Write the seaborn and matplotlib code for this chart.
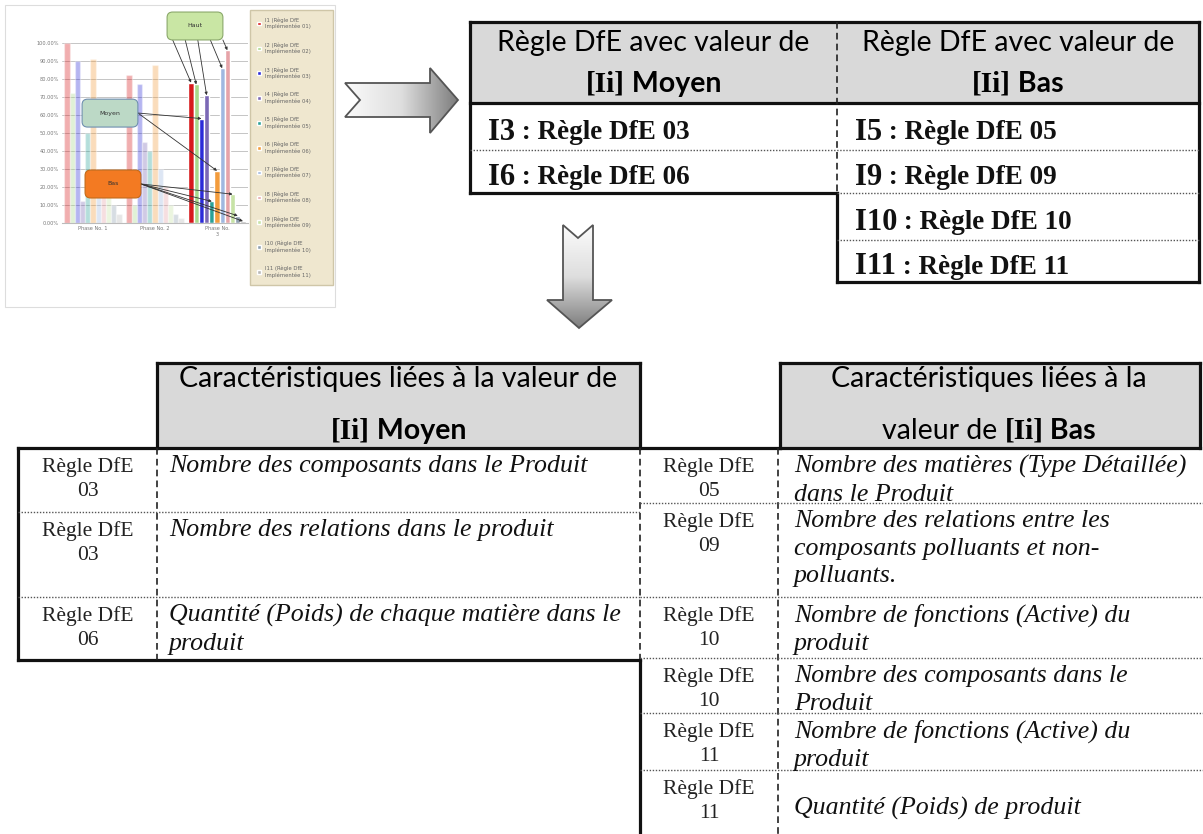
import numpy as np
import pandas as pd
import matplotlib.pyplot as plt
import seaborn as sns
from matplotlib.patches import Rectangle, Polygon, FancyBboxPatch
from matplotlib.colors import LinearSegmentedColormap

# ---------------------------------------------------------------
# données : miniature du graphique
phases = ["Phase No. 1", "Phase No. 2", "Phase No.\n3"]
indicateurs = ["I1", "I2", "I3", "I4", "I5", "I6", "I7", "I8", "I9", "I10", "I11"]
valeurs_phase1 = [1.00, 0.72, 0.90, 0.12, 0.50, 0.91, 0.30, 0.20, 0.15, 0.10, 0.05]
valeurs_phase2 = [0.82, 0.10, 0.77, 0.45, 0.40, 0.88, 0.30, 0.20, 0.10, 0.05, 0.03]
valeurs_phase3 = [0.78, 0.77, 0.58, 0.71, 0.12, 0.29, 0.86, 0.96, 0.16, 0.04, 0.01]
couleurs = ['#d7191c', '#a8d88a', '#2b2bd9', '#7b68b5', '#2aa198', '#f39c3c',
            '#9fb8e0', '#e6a3a8', '#c7e3a6', '#8fa0b0', '#b8b8b8']
niveaux = {"Haut": ["I1", "I2", "I4", "I7", "I8"],
           "Moyen": ["I3", "I6"],
           "Bas": ["I5", "I9", "I10", "I11"]}

# données : tableau des règles (en haut)
entete_moyen = ["Règle DfE avec valeur de", "Moyen"]
entete_bas = ["Règle DfE avec valeur de", "Bas"]
regles_moyen = [("I3", "Règle DfE 03"), ("I6", "Règle DfE 06")]
regles_bas = [("I5", "Règle DfE 05"), ("I9", "Règle DfE 09"),
              ("I10", "Règle DfE 10"), ("I11", "Règle DfE 11")]

# données : caractéristiques (en bas)
carac_moyen_num = ["03", "03", "06"]
carac_moyen_txt = ["Nombre des composants dans le Produit",
                   "Nombre des relations dans le produit",
                   "Quantité (Poids) de chaque matière dans le\nproduit"]
carac_bas_num = ["05", "09", "10", "10", "11", "11"]
carac_bas_txt = ["Nombre des matières (Type Détaillée)\ndans le Produit",
                 "Nombre des relations entre les\ncomposants polluants et non-\npolluants.",
                 "Nombre de fonctions (Active) du\nproduit",
                 "Nombre des composants dans le\nProduit",
                 "Nombre de fonctions (Active) du\nproduit",
                 "Quantité (Poids) de produit"]

# ---------------------------------------------------------------
sns.set_style('white')
SERIF = ['Liberation Serif', 'DejaVu Serif']
SANS = ['Lato', 'DejaVu Sans']
plt.rcParams['font.family'] = ['DejaVu Sans']

fig = plt.figure(figsize=(12.03, 8.34), dpi=100)
ax0 = fig.add_axes([0, 0, 1, 1])
ax0.set_xlim(0, 1203)
ax0.set_ylim(834, 0)
ax0.axis('off')
rend = fig.canvas.get_renderer()


def trait(x0, y0, x1, y1, style='plein'):
    if style == 'plein':
        kw = dict(color='#111111', lw=2.3, solid_capstyle='projecting')
    elif style == 'tirets':
        kw = dict(color='#222222', lw=1.2, linestyle=(0, (4, 2.5)))
    else:
        kw = dict(color='#555555', lw=1.0, linestyle=(0, (1, 1.2)))
    ax0.plot([x0, x1], [y0, y1], zorder=4, **kw)


def ligne_mixte(x, y, morceaux, ha='center'):
    objs = [ax0.text(0, y, t, va='center', ha='left', zorder=5, **kw) for t, kw in morceaux]
    larg = [o.get_window_extent(rend).width for o in objs]
    if ha == 'center':
        x = x - sum(larg) / 2
    for o, w in zip(objs, larg):
        o.set_x(x)
        x += w


def fleche(pts, vertical):
    poly = Polygon(pts, closed=True, fc='none', ec='#555555', lw=1.3, zorder=3)
    ax0.add_patch(poly)
    xs = [p[0] for p in pts]
    ys = [p[1] for p in pts]
    g = np.linspace(0, 1, 256)
    img = g[:, None] if vertical else g[None, :]
    cm = LinearSegmentedColormap.from_list('g', ['#fbfbfb', '#dedede', '#7d7d7d'])
    im = ax0.imshow(img, cmap=cm, extent=(min(xs), max(xs), max(ys), min(ys)),
                    aspect='auto', zorder=2)
    im.set_clip_path(poly)


hdr = dict(family=SANS, fontsize=20.5, color='#000000')
hdr_b = dict(family=SANS, fontsize=20.5, color='#000000', weight='bold')
ii = dict(family=SERIF, fontsize=21, color='#000000', weight='bold')

# ---------------------------------------------------------------
# miniature (graphique en barres)
ax0.add_patch(Rectangle((5, 5), 330, 302, fc='white', ec='#dddddd', lw=0.8, zorder=1))
axc = fig.add_axes([62 / 1203, 1 - 223 / 834, 186 / 1203, 180 / 834])
df = pd.DataFrame({'phase': np.repeat(phases, len(indicateurs)),
                   'indicateur': indicateurs * 3,
                   'valeur': valeurs_phase1 + valeurs_phase2 + valeurs_phase3})
sns.barplot(data=df, x='phase', y='valeur', hue='indicateur', palette=couleurs,
            saturation=1, width=0.92, ax=axc)
for cont in axc.containers:
    for j, bar in enumerate(cont):
        if j < 2:
            bar.set_alpha(0.35)
axc.set_ylim(0, 1.0)
axc.set_yticks(np.arange(0, 1.01, 0.1))
axc.set_yticklabels([f"{v * 100:.2f}%" for v in np.arange(0, 1.01, 0.1)])
axc.tick_params(labelsize=3.6, colors='#777777', length=0, pad=2)
axc.set_xlabel('')
axc.set_ylabel('')
axc.grid(axis='y', color='#bbbbbb', lw=0.6)
axc.set_axisbelow(True)
sns.despine(ax=axc, left=True)
axc.spines['bottom'].set_color('#bbbbbb')

h, l = axc.get_legend_handles_labels()
labs = [f"{n} (Règle DfE\nImplémentée {n[1:].zfill(2)})" for n in l]
axc.legend(h, labs, loc='upper left', bbox_to_anchor=(1.01, 1.183, 0.446, 0.0),
           mode='expand', fontsize=3.8, labelspacing=2.45, handlelength=0.7,
           handleheight=0.7, borderaxespad=0, borderpad=1.4, facecolor='#efe7cf',
           edgecolor='#cfc6a8', framealpha=1, fancybox=False, labelcolor='#666666')

boites = {"Haut": ((0.565, 1.017), '#c9e6a4', '#8aa86a'),
          "Moyen": ((0.108, 0.533), '#bcd9c6', '#6f8fb0'),
          "Bas": ((0.124, 0.139), '#f37a22', '#c26a1a')}
for nom, ((bx0, by0), fc, ec) in boites.items():
    axc.add_patch(FancyBboxPatch((bx0, by0), 0.3, 0.155, boxstyle='round,pad=0,rounding_size=0.03',
                                 transform=axc.transAxes, fc=fc, ec=ec, lw=0.8,
                                 clip_on=False, zorder=6))
    axc.text(bx0 + 0.15, by0 + 0.078, nom, transform=axc.transAxes, ha='center',
             va='center', fontsize=4.5, color='#333333', zorder=7)
    cibles = niveaux[nom]
    for k, ind in enumerate(cibles):
        bar = axc.containers[indicateurs.index(ind)][2]
        bx = bar.get_x() + bar.get_width() / 2
        if nom == "Haut":
            dep = (bx0 + 0.03 + 0.27 * k / (len(cibles) - 1), by0)
        else:
            dep = (bx0 + 0.3, by0 + 0.078)
        axc.annotate('', xy=(bx, bar.get_height()), xycoords='data', xytext=dep,
                     textcoords='axes fraction', annotation_clip=False,
                     arrowprops=dict(arrowstyle='-|>', lw=0.6, color='#333333',
                                     mutation_scale=4, shrinkA=0, shrinkB=0), zorder=5)

# flèches
fleche([(345, 83), (430, 83), (430, 68), (458, 100), (430, 133), (430, 117),
        (345, 117), (360, 100)], vertical=False)
fleche([(563, 225), (578, 238), (593, 225), (593, 300), (612, 300), (579, 328),
        (547, 300), (563, 300)], vertical=True)
ax0.set_xlim(0, 1203)
ax0.set_ylim(834, 0)

# ---------------------------------------------------------------
# tableau des règles (en haut)
L, M, R = 470, 837, 1199
ax0.add_patch(Rectangle((L, 22), R - L, 81, fc='#d9d9d9', ec='none', zorder=1))
for xc, ent in [((L + M) / 2, entete_moyen), ((M + R) / 2, entete_bas)]:
    ax0.text(xc, 43, ent[0], ha='center', va='center', zorder=5, **hdr)
    ligne_mixte(xc, 84, [("[Ii]", ii), (" " + ent[1], hdr_b)])
lignes_y = [103, 150, 193, 240, 282]
for col, x0 in [(regles_moyen, L), (regles_bas, M)]:
    for i, (code, regle) in enumerate(col):
        yc = (lignes_y[i] + lignes_y[i + 1]) / 2 + 6
        ligne_mixte(x0 + 18, yc, [(code, dict(family=SERIF, fontsize=22, weight='bold', color='#111')),
                                  (" : " + regle, dict(family=SERIF, fontsize=19.5, weight='bold', color='#111'))],
                    ha='left')
trait(L, 22, R, 22)
trait(L, 22, L, 193)
trait(R, 22, R, 282)
trait(L, 103, R, 103)
trait(L, 193, M, 193)
trait(M, 193, M, 282)
trait(M, 282, R, 282)
trait(M, 22, M, 193, 'tirets')
trait(L, 150, R, 150, 'points')
trait(M, 193, R, 193, 'points')
trait(M, 240, R, 240, 'points')

# ---------------------------------------------------------------
# caractéristiques (en bas)
desc = dict(family=SERIF, fontsize=18.6, style='italic', color='#111111', linespacing=1.33)
num = dict(family=SERIF, fontsize=15.5, color='#222222', linespacing=1.35)

# partie gauche : Moyen
gx0, gx1, gx2 = 18, 157, 640
g_rangs = [448, 512, 597, 660]
ax0.add_patch(Rectangle((gx1, 363), gx2 - gx1, 85, fc='#d9d9d9', ec='none', zorder=1))
ax0.text((gx1 + gx2) / 2, 379, "Caractéristiques liées à la valeur de", ha='center',
         va='center', zorder=5, **hdr)
ligne_mixte((gx1 + gx2) / 2, 431, [("[Ii]", ii), (" Moyen", hdr_b)])
for i, (n, t) in enumerate(zip(carac_moyen_num, carac_moyen_txt)):
    y0 = g_rangs[i]
    ax0.text((gx0 + gx1) / 2, y0 + 9, "Règle DfE\n" + n, ha='center', va='top', zorder=5, **num)
    ax0.text(gx1 + 12, y0 + 7, t, ha='left', va='top', zorder=5, **desc)
trait(gx1, 363, gx2, 363)
trait(gx1, 363, gx1, 448)
trait(gx2, 363, gx2, 448)
trait(gx0, 448, 780, 448)
trait(gx0, 448, gx0, 660)
trait(gx0, 660, gx2, 660)
trait(gx1, 448, gx1, 660, 'tirets')
trait(gx2, 448, gx2, 660, 'tirets')
for y in g_rangs[1:-1]:
    trait(gx0, y, gx2, y, 'points')

# partie droite : Bas
dx0, dx1, dx2 = 640, 778, 1200
d_rangs = [448, 503, 597, 658, 713, 770, 834]
ax0.add_patch(Rectangle((dx1 + 2, 363), dx2 - dx1 - 2, 85, fc='#d9d9d9', ec='none', zorder=1))
ax0.text((dx1 + dx2) / 2, 379, "Caractéristiques liées à la", ha='center', va='center',
         zorder=5, **hdr)
ligne_mixte((dx1 + dx2) / 2, 431, [("valeur de ", hdr), ("[Ii]", ii), (" Bas", hdr_b)])
for i, (n, t) in enumerate(zip(carac_bas_num, carac_bas_txt)):
    y0, y1 = d_rangs[i], d_rangs[i + 1]
    ax0.text((dx0 + dx1) / 2, y0 + 9, "Règle DfE\n" + n, ha='center', va='top', zorder=5, **num)
    if i == len(carac_bas_num) - 1:
        ax0.text(dx1 + 16, (y0 + y1) / 2 + 6, t, ha='left', va='center', zorder=5, **desc)
    else:
        ax0.text(dx1 + 16, y0 + 7, t, ha='left', va='top', zorder=5, **desc)
trait(dx1 + 2, 363, dx2, 363)
trait(dx1 + 2, 363, dx1 + 2, 448)
trait(dx2, 363, dx2, 448)
trait(780, 448, dx2, 448)
trait(dx0, 660, dx0, 834)
trait(dx1, 448, dx1, 834, 'tirets')
for y in d_rangs[1:-1]:
    trait(dx0, y, 1203, y, 'points')

fig.savefig('out.png', dpi=100)
